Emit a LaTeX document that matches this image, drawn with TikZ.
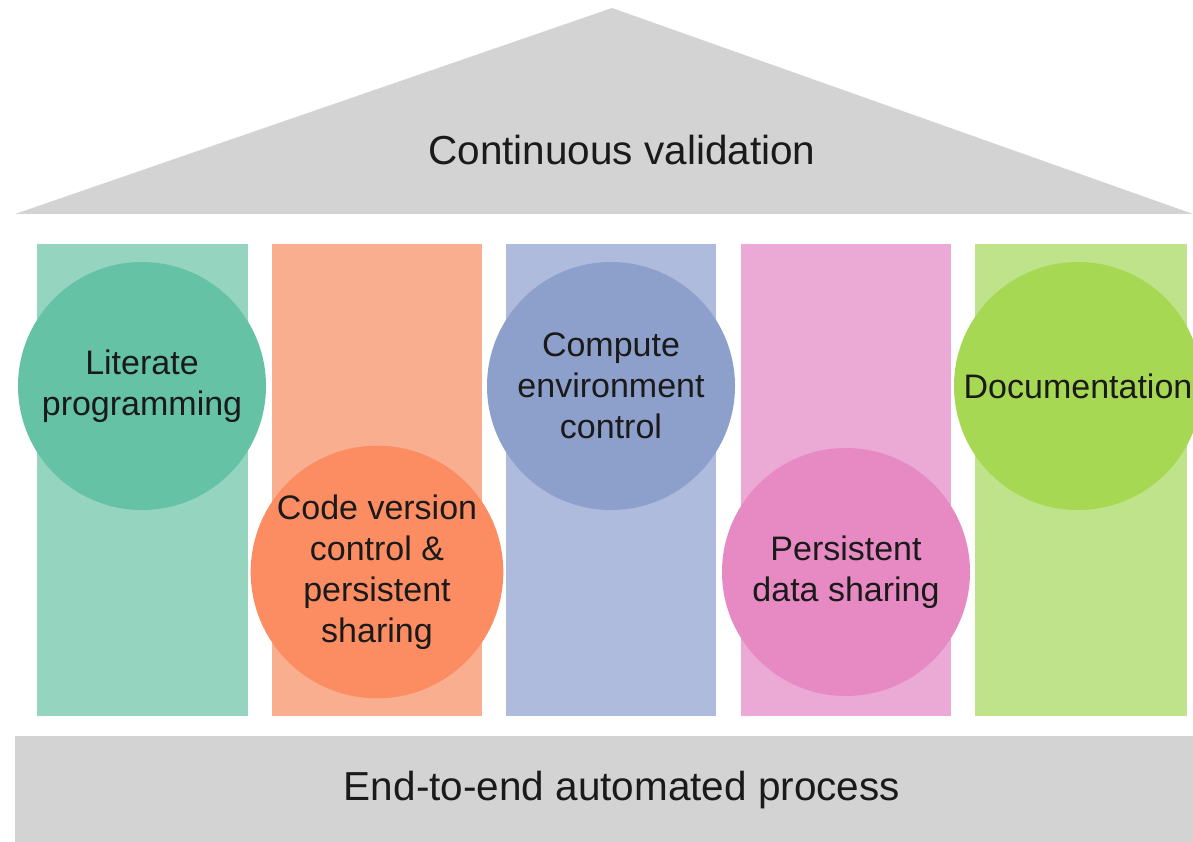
\documentclass[tikz,border=0pt]{standalone}
\usepackage{fontspec}
\setmainfont{Liberation Sans}
\definecolor{roofgray}{HTML}{D3D3D3}
\definecolor{pgreen}{HTML}{95D5C0}
\definecolor{porange}{HTML}{F9AF8F}
\definecolor{pblue}{HTML}{AFBBDD}
\definecolor{ppink}{HTML}{EBA9D6}
\definecolor{plime}{HTML}{BFE38A}
\definecolor{cgreen}{HTML}{66C2A5}
\definecolor{corange}{HTML}{FC8D62}
\definecolor{cblue}{HTML}{8DA0CB}
\definecolor{cpink}{HTML}{E78AC3}
\definecolor{clime}{HTML}{A6D854}
\definecolor{ink}{HTML}{1A1A1A}
\tikzset{
  pillar/.style={fill=#1, draw=none},
  topic/.style={circle, fill=#1, draw=none, minimum size=248pt, inner sep=0pt,
    align=center, text=ink, font=\fontsize{34}{41}\selectfont},
  bigtext/.style={text=ink, font=\fontsize{40.5}{48}\selectfont}
}
\begin{document}
\begin{tikzpicture}[x=1pt, y=-1pt]
  \useasboundingbox (0,0) rectangle (1193,842);
  \begin{scope}
    \clip (0,0) rectangle (1193,842);
    % roof
    \fill[roofgray] (15,214) -- (612,8) -- (1193,214) -- cycle;
    \node[bigtext] (roof) at (622,150) {Continuous validation};
    % pillars
    \fill[pillar=pgreen]  (37,244)  rectangle (248,716);
    \fill[pillar=porange] (272,244) rectangle (482,716);
    \fill[pillar=pblue]   (506,244) rectangle (716,716);
    \fill[pillar=ppink]   (741,244) rectangle (951,716);
    \fill[pillar=plime]   (975,244) rectangle (1187,716);
    % practices
    \node[topic=cgreen]  (lit)  at (142,386)  {Literate\\programming};
    \node[topic=corange] (code) at (377,572)  {Code version\\control \&\\persistent\\sharing};
    \node[topic=cblue]   (env)  at (611,386)  {Compute\\environment\\control};
    \node[topic=cpink]   (data) at (846,572)  {Persistent\\data sharing};
    \node[topic=clime]   (doc)  at (1078,386) {Documentation};
    % foundation
    \fill[roofgray] (15,736) rectangle (1193,842);
    \node[bigtext] (base) at (622,790) {End-to-end automated process};
  \end{scope}
\end{tikzpicture}
\end{document}
